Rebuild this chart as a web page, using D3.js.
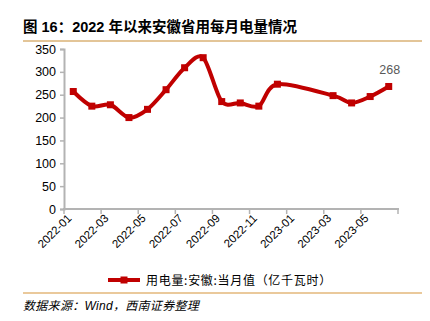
<!DOCTYPE html>
<html><head><meta charset="utf-8">
<script src="https://cdn.jsdelivr.net/npm/d3@7/dist/d3.min.js"></script>
<style>
body{margin:0;background:#fff;}
svg{display:block;}
</style></head>
<body>
<svg id="c" width="430" height="321"></svg>
<script>
const months = ["2022-01","2022-02","2022-03","2022-04","2022-05","2022-06","2022-07","2022-08","2022-09","2022-10","2022-11","2022-12","2023-01","2023-02","2023-03","2023-04","2023-05","2023-06"];
const values = [257,225,228,200,218,261,309,331,235,232,225,273,null,null,248,232,246,268];
const tickLabels = ["2022-01","2022-03","2022-05","2022-07","2022-09","2022-11","2023-01","2023-03","2023-05"];
const yTicks = [0,50,100,150,200,250,300,350];
const seriesName = "用电量:安徽:当月值（亿千瓦时）";
const title = "图 16：2022 年以来安徽省用每月电量情况";
const source = "数据来源：Wind，西南证券整理";

const svg = d3.select("#c");
const red = "#C00000";
const axisColor = "#B3B3B3";
const numFont = "'Liberation Sans', Arial, sans-serif";
const cjkFont = "'Liberation Sans','Noto Sans CJK SC', sans-serif";

// title
svg.append("text").attr("x",23).attr("y",32).attr("font-family",cjkFont)
  .attr("font-size",14.5).attr("font-weight","bold").attr("fill","#000").text(title);
svg.append("line").attr("x1",23).attr("x2",422).attr("y1",41).attr("y2",41)
  .attr("stroke","#E3C598").attr("stroke-width",2);

const x = d3.scaleBand().domain(months).range([64,398]);
const y = d3.scaleLinear().domain([0,350]).range([209,49]);

// y axis
const ya = svg.append("g").attr("transform","translate(64,0)")
  .call(d3.axisLeft(y).tickValues(yTicks).tickSize(4).tickPadding(4));
ya.select(".domain").attr("stroke",axisColor).attr("stroke-width",2);
ya.selectAll(".tick line").attr("stroke",axisColor).attr("stroke-width",1.5);
ya.selectAll(".tick text").attr("font-family",numFont).attr("font-size",12.5).attr("fill","#000");

// x axis
const xTickPos = d3.range(0,months.length+1,2).map(i=> 64 + i*x.step());
const xg = svg.append("g");
xg.append("line").attr("x1",63).attr("x2",399).attr("y1",209).attr("y2",209)
  .attr("stroke",axisColor).attr("stroke-width",2);
xg.selectAll("line.t").data(xTickPos).join("line").attr("class","t")
  .attr("x1",d=>d).attr("x2",d=>d).attr("y1",209).attr("y2",214)
  .attr("stroke",axisColor).attr("stroke-width",1.5);
xg.selectAll("text").data(tickLabels).join("text")
  .attr("transform",d=>`translate(${x(d)+x.bandwidth()/2-1},${219}) rotate(-45)`)
  .attr("text-anchor","end").attr("font-family",numFont).attr("font-size",11.5)
  .attr("fill","#000").text(d=>d);

// line
const pts = months.map((m,i)=>({m,v:values[i]})).filter(d=>d.v!==null);
const line = d3.line().x(d=>x(d.m)+x.bandwidth()/2).y(d=>y(d.v)).curve(d3.curveCardinal.tension(0.1));
svg.append("path").datum(pts).attr("d",line).attr("fill","none")
  .attr("stroke",red).attr("stroke-width",4).attr("stroke-linejoin","round");
svg.selectAll("rect.m").data(pts).join("rect").attr("class","m")
  .attr("x",d=>x(d.m)+x.bandwidth()/2-3.5).attr("y",d=>y(d.v)-3.5)
  .attr("width",7).attr("height",7).attr("fill",red);

// data label
const last = pts[pts.length-1];
svg.append("text").attr("x",x(last.m)+x.bandwidth()/2+1).attr("y",y(last.v)-12)
  .attr("text-anchor","middle").attr("font-family",numFont).attr("font-size",12.5)
  .attr("fill","#595959").text(last.v);

// legend
svg.append("line").attr("x1",108).attr("x2",140).attr("y1",280).attr("y2",280)
  .attr("stroke",red).attr("stroke-width",4);
svg.append("rect").attr("x",120.5).attr("y",276.5).attr("width",7).attr("height",7).attr("fill",red);
svg.append("text").attr("x",146).attr("y",284.5).attr("font-family","'Noto Sans CJK SC', sans-serif")
  .attr("font-size",12).attr("letter-spacing",0.7).attr("fill","#000").text(seriesName);

svg.append("line").attr("x1",23).attr("x2",422).attr("y1",293).attr("y2",293)
  .attr("stroke","#E3B77A").attr("stroke-width",1.5);
svg.append("text").attr("x",23).attr("y",310).attr("font-family",cjkFont)
  .attr("font-size",12).attr("font-style","italic").attr("letter-spacing",0.3).attr("fill","#000").text(source);
</script>
</body></html>
